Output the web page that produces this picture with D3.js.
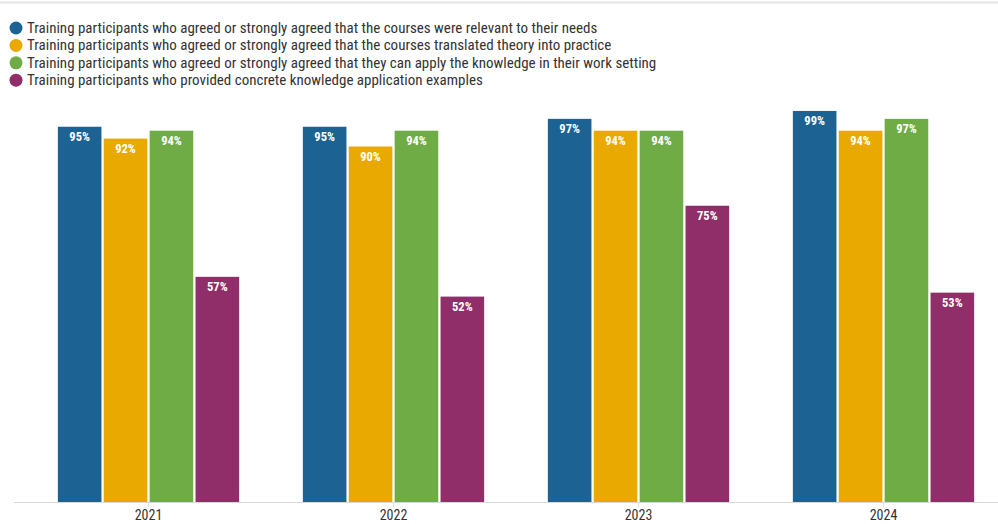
<!DOCTYPE html>
<html>
<head>
<meta charset="utf-8">
<script src="https://cdn.jsdelivr.net/npm/d3@7"></script>
<style>
body{margin:0;background:#fff;}
text{font-family:"Liberation Sans Narrow","Roboto Condensed","DejaVu Sans Condensed",sans-serif;}
</style>
</head>
<body>
<div class="box"></div>
<script>
const years=['2021','2022','2023','2024'];
const seriesNames=[
  'Training participants who agreed or strongly agreed that the courses were relevant to their needs',
  'Training participants who agreed or strongly agreed that the courses translated theory into practice',
  'Training participants who agreed or strongly agreed that they can apply the knowledge in their work setting',
  'Training participants who provided concrete knowledge application examples'
];
const relevant=[95,95,97,99];
const theory=[92,90,94,94];
const apply=[94,94,94,97];
const examples=[57,52,75,53];
const colours=['#1c6394','#eaa900','#6fac46','#8f2e68'];

const dims={width:998,height:524};
const svg=d3.select('.box').append('svg')
    .attr('width',dims.width)
    .attr('height',dims.height);

svg.append('line')
    .attr('x1',0).attr('x2',dims.width)
    .attr('y1',2.5).attr('y2',2.5)
    .attr('stroke','#e3e3e3').attr('stroke-width',2);

// legend
const legend=svg.append('g').attr('transform','translate(16,28)');
seriesNames.forEach((n,i)=>{
  const g=legend.append('g').attr('transform',`translate(0,${i*17.4})`);
  g.append('circle').attr('r',6.5).attr('fill',colours[i]);
  g.append('text').attr('x',11).attr('y',5)
    .attr('font-size',15).attr('fill','#333').text(n);
});

const data=years.map((y,i)=>({year:y,vals:[relevant[i],theory[i],apply[i],examples[i]]}));

const x0=d3.scaleBand().domain(years).range([26,1006]).paddingInner(0.26).paddingOuter(0.13);
const x1=d3.scaleBand().domain(d3.range(4)).range([0,x0.bandwidth()]).paddingInner(0.05);
const y=d3.scaleLinear().domain([0,100]).range([502,107]);

const xAxis=svg.append('g').attr('transform','translate(0,502)')
    .call(d3.axisBottom(x0).tickSize(5).tickSizeOuter(0));
xAxis.select('.domain').attr('stroke','#d8d8d8').attr('d','M14,0.5H998');
xAxis.selectAll('.tick line').attr('stroke','#e0e0e0');
xAxis.selectAll('.tick text').attr('font-size',14).attr('fill','#333')
    .attr('y',8).attr('dy','0.72em');

const groups=svg.selectAll('.grp').data(data).enter().append('g')
    .attr('transform',d=>`translate(${x0(d.year)},0)`);

const bars=groups.selectAll('g').data(d=>d.vals.map((v,i)=>({v,i}))).enter().append('g');
bars.append('rect')
    .attr('x',d=>x1(d.i))
    .attr('y',d=>y(d.v))
    .attr('width',x1.bandwidth())
    .attr('height',d=>y(0)-y(d.v))
    .attr('fill',d=>colours[d.i]);
bars.append('text')
    .attr('x',d=>x1(d.i)+x1.bandwidth()/2)
    .attr('y',d=>y(d.v)+14)
    .attr('text-anchor','middle')
    .attr('font-size',12.5).attr('font-weight','bold')
    .attr('fill','#fff')
    .text(d=>d.v+'%');
</script>
</body>
</html>
